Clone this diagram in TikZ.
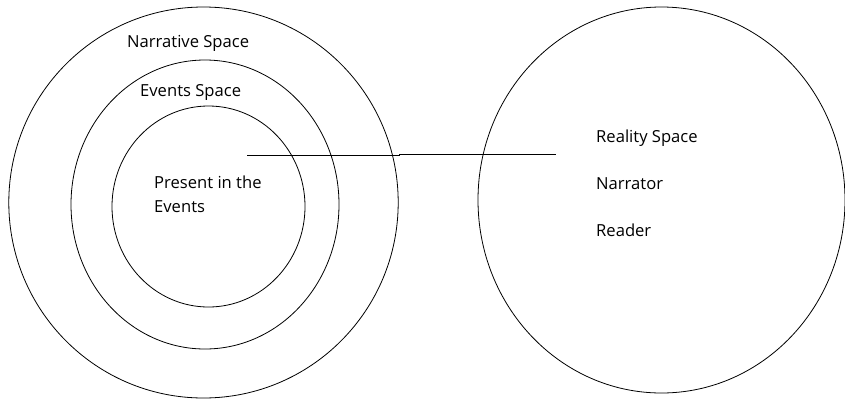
\documentclass[tikz,border=0pt]{standalone}
\usepackage{fontspec}
\setmainfont{Open Sans}
\usetikzlibrary{shapes.geometric}
\begin{document}
\begin{tikzpicture}[x=1pt,y=-1pt,
  ring/.style={ellipse, draw, line width=0.8pt, inner sep=0pt},
  lbl/.style={anchor=base west, inner sep=0pt, font=\fontsize{16.6}{19}\selectfont}]
\fill[white] (0,0) rectangle (845,400);
\useasboundingbox (0,0) rectangle (845,400);
\node[ring, minimum width=389.4pt, minimum height=391pt] (outer) at (203.5,202.5) {};
\node[ring, minimum width=268pt, minimum height=289pt] (middle) at (205,204.5) {};
\node[ring, minimum width=193pt, minimum height=201pt] (inner) at (208.5,206.5) {};
\node[ring, minimum width=367pt, minimum height=386pt] (reality) at (661.5,200) {};
\node[lbl] (narr) at (127,47) {Narrative Space};
\node[lbl] (evsp) at (140,96) {Events Space};
\node[lbl] (pres) at (154,188) {Present in the};
\node[lbl] (evts) at (154,212) {Events};
\node[lbl] (real) at (596,142) {Reality Space};
\node[lbl] (narrator) at (596,189) {Narrator};
\node[lbl] (reader) at (596,236) {Reader};
\coordinate (a) at (247,155);
\coordinate (b) at (399,155);
\coordinate (c) at (399,154);
\coordinate (d) at (556,154);
\draw[line width=0.8pt] (a) -- (b) -- (c) -- (d);
\end{tikzpicture}
\end{document}
